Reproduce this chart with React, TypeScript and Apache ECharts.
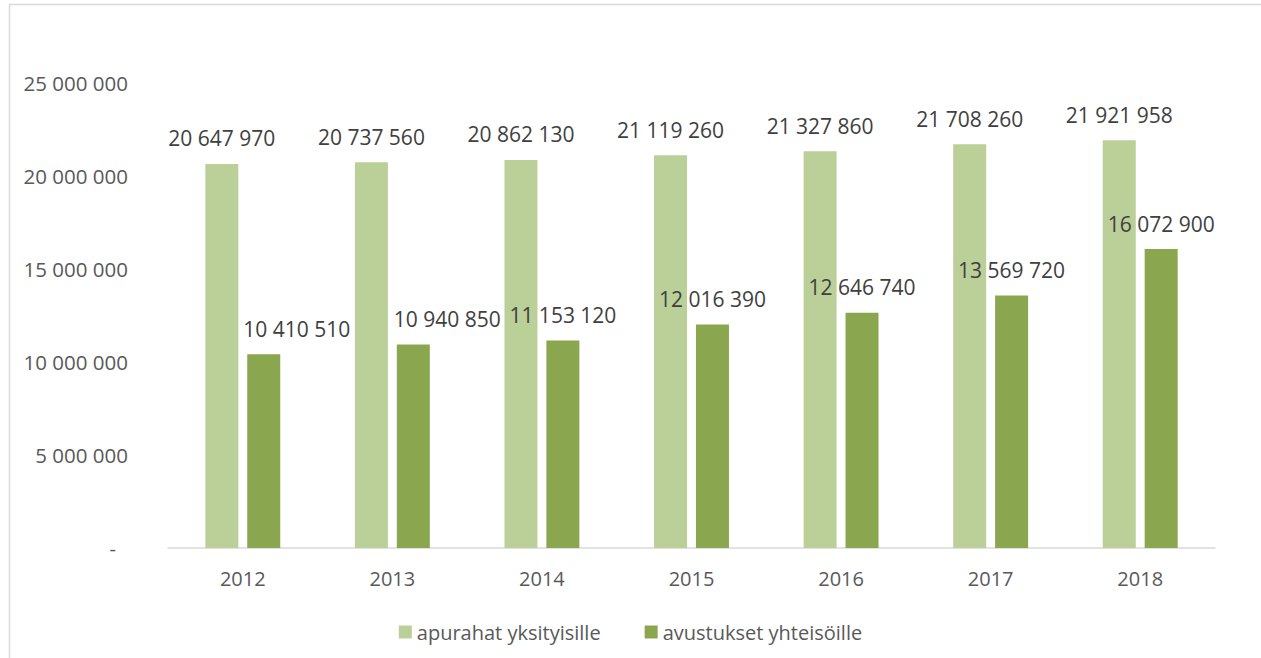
import React, { useEffect, useRef } from "react";
import * as echarts from "echarts";

const years = ["2012", "2013", "2014", "2015", "2016", "2017", "2018"];
const apurahat = [20647970, 20737560, 20862130, 21119260, 21327860, 21708260, 21921958];
const avustukset = [10410510, 10940850, 11153120, 12016390, 12646740, 13569720, 16072900];
const seriesNames = ["apurahat yksityisille", "avustukset yhteisöille"];
// label x-offsets for the second series (style only)
const darkLabelShift = [33, 34, 0, 0, 0, 0, 0];

const fmt = (v: number) =>
  v === 0 ? "-" : Math.round(v).toString().replace(/\B(?=(\d{3})+(?!\d))/g, " ");

const FONT = "'Open Sans', 'Noto Sans', sans-serif";

export default function App() {
  const ref = useRef<HTMLDivElement>(null);
  useEffect(() => {
    if (!ref.current) return;
    const chart = echarts.init(ref.current, undefined, { renderer: "svg" });
    const labelBase = {
      show: true,
      position: "top",
      distance: 15,
      color: "#404040",
      fontSize: 21,
      fontFamily: FONT,
      formatter: (p: any) => fmt(p.value),
    };
    chart.setOption({
      animation: false,
      backgroundColor: "#ffffff",
      textStyle: { fontFamily: FONT },
      graphic: [
        { type: "line", shape: { x1: 9.5, y1: 4, x2: 9.5, y2: 658 }, style: { stroke: "#d9d9d9", lineWidth: 1.5 } },
        { type: "line", shape: { x1: 9, y1: 4.5, x2: 1261, y2: 4.5 }, style: { stroke: "#d9d9d9", lineWidth: 1.5 } },
      ],
      grid: { left: 168, right: 46, top: 83, bottom: 110, containLabel: false },
      legend: {
        bottom: 11,
        left: "center",
        itemWidth: 13,
        itemHeight: 13,
        itemGap: 44,
        icon: "rect",
        textStyle: { color: "#595959", fontSize: 20, fontFamily: FONT },
        data: seriesNames,
      },
      xAxis: {
        type: "category",
        data: years,
        axisLine: { lineStyle: { color: "#d9d9d9", width: 1.5 } },
        axisTick: { show: false },
        axisLabel: { color: "#595959", fontSize: 20, fontFamily: FONT, margin: 20 },
      },
      yAxis: {
        type: "value",
        min: 0,
        max: 25000000,
        interval: 5000000,
        splitLine: { show: false },
        axisLine: { show: false },
        axisTick: { show: false },
        axisLabel: {
          color: "#595959",
          fontSize: 20.5,
          fontFamily: FONT,
          margin: 40,
          formatter: (v: number) => (v === 0 ? "{z|-}" : fmt(v)),
          rich: { z: { fontSize: 20, color: "#595959", padding: [0, 12, 0, 0], fontFamily: FONT } },
        },
      },
      series: [
        {
          name: seriesNames[0],
          type: "bar",
          data: apurahat,
          barWidth: 33,
          barGap: "27%",
          itemStyle: { color: "#bbcf98" },
          label: labelBase,
        },
        {
          name: seriesNames[1],
          type: "bar",
          data: avustukset.map((v, i) => ({
            value: v,
            label: { offset: [darkLabelShift[i], 0] },
          })),
          barWidth: 33,
          barGap: "27%",
          itemStyle: { color: "#8aa64e" },
          label: labelBase,
        },
      ],
    });
    return () => chart.dispose();
  }, []);
  return (
    <div
      ref={ref}
      style={{ position: "fixed", left: 0, top: 0, width: 1261, height: 658 }}
    />
  );
}
